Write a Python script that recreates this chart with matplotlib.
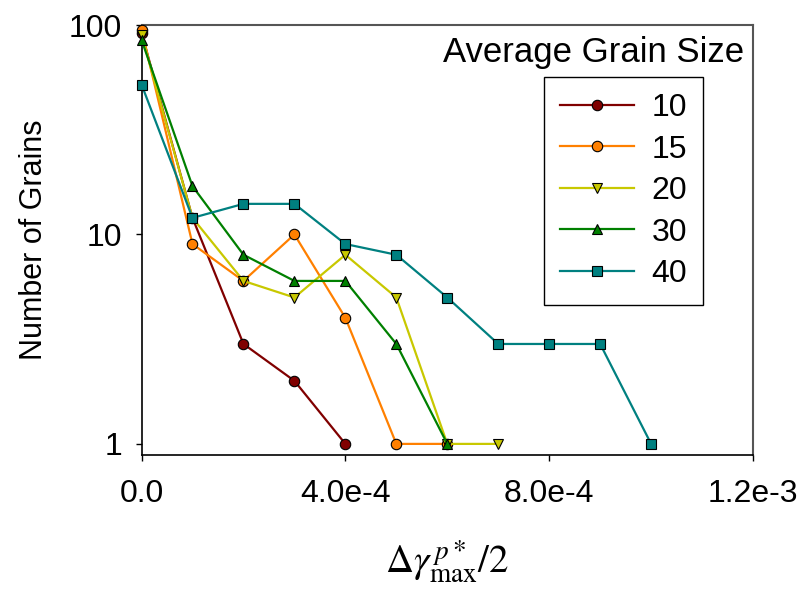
import matplotlib.pyplot as plt
import numpy as np

plt.rcParams['font.family'] = ['Liberation Sans', 'DejaVu Sans']
plt.rcParams['mathtext.fontset'] = 'stix'

# strain amplitude bins and grain counts per average grain size
strain = [0.0, 1e-4, 2e-4, 3e-4, 4e-4, 5e-4, 6e-4, 7e-4, 8e-4, 9e-4, 1e-3]
sizes = ['10', '15', '20', '30', '40']
n10 = [92, 12, 3, 2, 1]
n15 = [95, 9, 6, 10, 4, 1, 1]
n20 = [90, 12, 6, 5, 8, 5, 1, 1]
n30 = [85, 17, 8, 6, 6, 3, 1]
n40 = [52, 12, 14, 14, 9, 8, 5, 3, 3, 3, 1]

xticks = [0.0, 4e-4, 8e-4, 1.2e-3]
xticklabels = ['0.0', '4.0e-4', '8.0e-4', '1.2e-3']
yticks = [1, 10, 100]
yticklabels = ['1', '10', '100']

colors = ['#800000', '#ff8000', '#c8c800', '#008000', '#008080']
markers = ['o', 'o', 'v', '^', 's']

fig = plt.figure(figsize=(8.06, 5.93), dpi=100)
ax = fig.add_axes([0.1756, 0.2327, 0.7587, 0.7251])

for counts, lab, c, m in zip([n10, n15, n20, n30, n40], sizes, colors, markers):
    ax.plot(strain[:len(counts)], counts, color=c, lw=1.6, marker=m, ms=7.5,
            mfc=c, mec='black', mew=0.8, label=lab, clip_on=False, zorder=3)

ax.set_yscale('log')
ax.set_xlim(0, 1.2e-3)
ax.set_ylim(0.885, 100)
ax.set_xticks(xticks)
ax.set_xticklabels(xticklabels)
ax.set_yticks(yticks)
ax.set_yticklabels(yticklabels)
ax.yaxis.set_minor_locator(plt.NullLocator())
ax.tick_params(labelsize=23, length=4, width=1, direction='out')
ax.tick_params(axis='x', pad=13)
ax.tick_params(axis='y', pad=10)

for s in ['left', 'bottom']:
    ax.spines[s].set_color('black')
    ax.spines[s].set_linewidth(1.2)
for s in ['top', 'right']:
    ax.spines[s].set_color('#555555')
    ax.spines[s].set_linewidth(1.5)

ax.set_ylabel('Number of Grains', fontsize=22, labelpad=14)
ax.set_xlabel(r'$\Delta\gamma^{\,p*}_{\max}/2$', fontsize=28, labelpad=21)

leg = ax.legend(loc='upper right', bbox_to_anchor=(0.918, 0.879), fontsize=23,
                handlelength=2.3, handletextpad=0.55, labelspacing=0.36,
                borderpad=0.5, borderaxespad=0, fancybox=False,
                framealpha=1, edgecolor='black')
leg.get_frame().set_linewidth(1.0)
for t in leg.get_texts():
    t.set_ha('right')
ax.text(0.74, 0.935, 'Average Grain Size', transform=ax.transAxes,
        fontsize=25, ha='center', va='center')

fig.savefig('out.png', dpi=100)
